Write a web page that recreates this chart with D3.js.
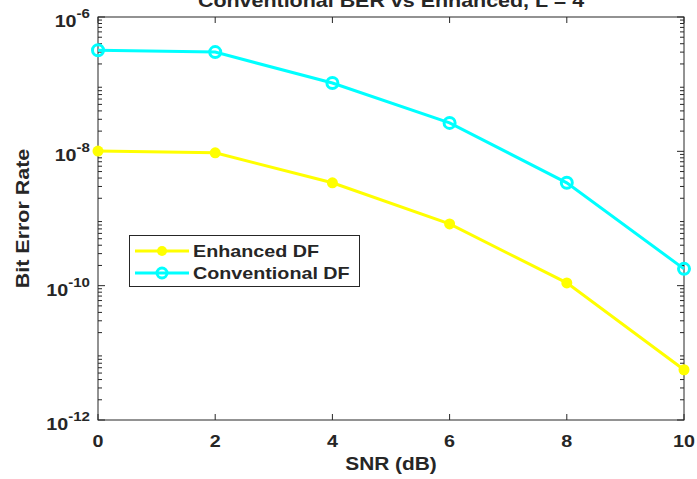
<!DOCTYPE html>
<html><head><meta charset="utf-8">
<script src="https://cdn.jsdelivr.net/npm/d3@7"></script>
<style>body{margin:0;background:#fff}svg{display:block}text{font-family:"Liberation Sans",Arial,sans-serif;font-weight:bold;fill:#262626}</style>
</head><body>
<svg id="c" width="697" height="479"></svg>
<script>
const snr = [0, 2, 4, 6, 8, 10];
const enhanced = [1.01e-8, 9.5e-9, 3.4e-9, 8.3e-10, 1.1e-10, 5.6e-12];
const conventional = [3.2e-7, 3.0e-7, 1.04e-7, 2.65e-8, 3.4e-9, 1.78e-10];
const xTicks = [0, 2, 4, 6, 8, 10];
const yExps = [-12, -10, -8, -6];
const seriesNames = ["Enhanced DF", "Conventional DF"];
const titleText = "Conventional BER vs Enhanced, L = 4";

const svg = d3.select("#c");
const L = 98, R = 684, T = 17, B = 420;
const x = d3.scaleLinear().domain([0, 10]).range([L, R]);
const y = d3.scaleLog().domain([1e-12, 1e-6]).range([B, T]);
const ax = "#262626";
const SX = 1.16;

function txt(px, py, size, anchor, rot) {
  const g = svg.append("g").attr("transform",
    "translate(" + px + "," + py + ")" + (rot ? " rotate(" + rot + ")" : "") + " scale(" + SX + ",1)");
  return g.append("text").attr("text-anchor", anchor).attr("font-size", size);
}

// box
svg.append("rect").attr("x", L).attr("y", T).attr("width", R - L).attr("height", B - T)
  .attr("fill", "none").attr("stroke", ax).attr("stroke-width", 1);

// x ticks
xTicks.forEach(v => {
  svg.append("line").attr("x1", x(v)).attr("x2", x(v)).attr("y1", B).attr("y2", B - 6).attr("stroke", ax);
  svg.append("line").attr("x1", x(v)).attr("x2", x(v)).attr("y1", T).attr("y2", T + 6).attr("stroke", ax);
  txt(x(v), B + 27, 17, "middle").text(v);
});

// y ticks
for (let e = -12; e < -6; e++) {
  for (let m = 2; m <= 9; m++) {
    const yy = y(m * Math.pow(10, e));
    svg.append("line").attr("x1", L).attr("x2", L + 4).attr("y1", yy).attr("y2", yy).attr("stroke", ax);
    svg.append("line").attr("x1", R).attr("x2", R - 4).attr("y1", yy).attr("y2", yy).attr("stroke", ax);
  }
}
yExps.forEach(e => {
  const yy = y(Math.pow(10, e));
  svg.append("line").attr("x1", L).attr("x2", L + 7).attr("y1", yy).attr("y2", yy).attr("stroke", ax);
  svg.append("line").attr("x1", R).attr("x2", R - 7).attr("y1", yy).attr("y2", yy).attr("stroke", ax);
  const t = txt(L - 8, yy + 10, 17, "end");
  t.append("tspan").text("10");
  t.append("tspan").attr("dy", -9).attr("font-size", 13).text(String(e));
});

// title (top clipped as in reference)
txt((L + R) / 2, 7, 18.5, "middle").text(titleText);

// axis labels
txt((L + R) / 2, 470, 18, "middle").text("SNR (dB)");
txt(29, (T + B) / 2, 18.5, "middle", -90).text("Bit Error Rate");

const line = d3.line().x((d, i) => x(snr[i])).y(d => y(d));
const colors = ["#ffff00", "#00ffff"];

// conventional
svg.append("path").datum(conventional).attr("d", line).attr("fill", "none")
  .attr("stroke", colors[1]).attr("stroke-width", 3);
svg.selectAll(".cm").data(conventional).enter().append("circle")
  .attr("cx", (d, i) => x(snr[i])).attr("cy", d => y(d)).attr("r", 5.5)
  .attr("fill", "none").attr("stroke", colors[1]).attr("stroke-width", 3);

// enhanced
svg.append("path").datum(enhanced).attr("d", line).attr("fill", "none")
  .attr("stroke", colors[0]).attr("stroke-width", 3);
svg.selectAll(".em").data(enhanced).enter().append("circle")
  .attr("cx", (d, i) => x(snr[i])).attr("cy", d => y(d)).attr("r", 5.5)
  .attr("fill", colors[0]);

// legend
svg.append("rect").attr("x", 129.5).attr("y", 235.5).attr("width", 230).attr("height", 51)
  .attr("fill", "#fff").attr("stroke", ax).attr("stroke-width", 1);
seriesNames.forEach((n, i) => {
  const yy = 251 + i * 22;
  svg.append("line").attr("x1", 135).attr("x2", 189).attr("y1", yy).attr("y2", yy)
    .attr("stroke", colors[i]).attr("stroke-width", 3);
  if (i === 0) svg.append("circle").attr("cx", 162).attr("cy", yy).attr("r", 5).attr("fill", colors[i]);
  else svg.append("circle").attr("cx", 162).attr("cy", yy).attr("r", 5).attr("fill", "none")
    .attr("stroke", colors[i]).attr("stroke-width", 3);
  txt(193, yy + 6, 17, "start").text(n);
});
</script>
</body></html>
